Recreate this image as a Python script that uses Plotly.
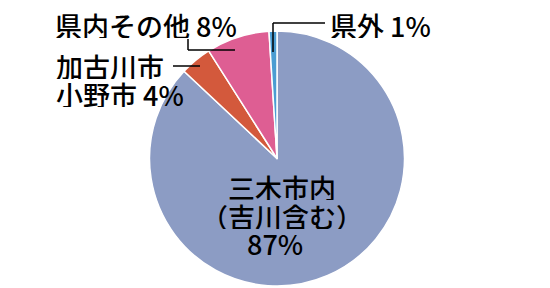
import plotly.graph_objects as go

labels = ["三木市内（吉川含む）", "加古川市・小野市", "県内その他", "県外"]
values = [87, 4, 8, 1]
colors = ["#8C9CC4", "#D3593C", "#DE5E93", "#4B9DD2"]

W, H = 550, 288
FONT = "Noto Sans CJK JP"

def px(x):
    return x / W

def py(y):
    return 1 - y / H

fig = go.Figure(go.Pie(
    labels=labels, values=values, sort=False, direction="clockwise", rotation=0,
    marker=dict(colors=colors, line=dict(color="white", width=1.5)),
    textinfo="none", hoverinfo="label+percent", showlegend=False,
    domain=dict(x=[px(149.5), px(404.5)], y=[py(286), py(31)]),
))

ann = []
def add(text, x, y, xanchor="center"):
    ann.append(dict(text=text, x=px(x), y=py(y), xref="paper", yref="paper",
                    xanchor=xanchor, yanchor="middle", showarrow=False, height=26,
                    font=dict(family=FONT, size=27, color="black", weight=500)))

add(f"県内その他 {values[2]}%", 146, 25)
add("加古川市", 54, 66, "left")
add(f"小野市 {values[1]}%", 54, 94, "left")
add(f"県外 {values[3]}%", 380, 25)
add("三木市内", 282, 187)
add("（吉川含む）", 282, 216)
add(f"{values[0]}%", 275, 243)

shapes = []
def seg(x0, y0, x1, y1):
    shapes.append(dict(type="line", xref="paper", yref="paper",
                       x0=px(x0), y0=py(y0), x1=px(x1), y1=py(y1),
                       line=dict(color="black", width=1.5)))

seg(273, 52, 273, 23)
seg(273, 23, 325, 23)
seg(188, 39, 188, 50)
seg(188, 50, 235, 50)
seg(173, 66, 200, 66)

fig.update_layout(width=W, height=H, margin=dict(l=0, r=0, t=0, b=0),
                  paper_bgcolor="white", plot_bgcolor="white",
                  annotations=ann, shapes=shapes)
fig.write_html("out.html")
